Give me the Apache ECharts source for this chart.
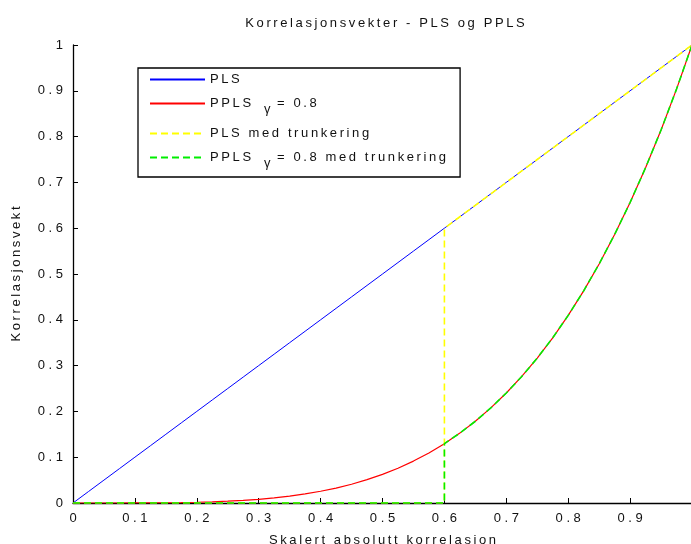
<!DOCTYPE html>
<html>
<head>
<meta charset="utf-8">
<script src="https://cdn.jsdelivr.net/npm/echarts@6/dist/echarts.min.js"></script>
<style>
  html, body { margin: 0; padding: 0; background: #fff; }
  #chart { width: 691px; height: 544px; }
</style>
</head>
<body>
<div id="chart"></div>
<script>
// Scaled absolute correlation (x) sampled at 0.025 steps
const xs = [0, 0.025, 0.05, 0.075, 0.1, 0.125, 0.15, 0.175, 0.2, 0.225, 0.25,
            0.275, 0.3, 0.325, 0.35, 0.375, 0.4, 0.425, 0.45, 0.475, 0.5,
            0.525, 0.55, 0.575, 0.6, 0.625, 0.65, 0.675, 0.7, 0.725, 0.75,
            0.775, 0.8, 0.825, 0.85, 0.875, 0.9, 0.925, 0.95, 0.975, 1.0];
// PLS weights
const plsWeights = [0, 0.025, 0.05, 0.075, 0.1, 0.125, 0.15, 0.175, 0.2, 0.225, 0.25,
                    0.275, 0.3, 0.325, 0.35, 0.375, 0.4, 0.425, 0.45, 0.475, 0.5,
                    0.525, 0.55, 0.575, 0.6, 0.625, 0.65, 0.675, 0.7, 0.725, 0.75,
                    0.775, 0.8, 0.825, 0.85, 0.875, 0.9, 0.925, 0.95, 0.975, 1.0];
// PPLS (gamma = 0.8) weights
const pplsWeights = [0, 0, 0, 0, 0.0001, 0.0002, 0.0005, 0.0009, 0.0016, 0.0026, 0.0039,
                     0.0057, 0.0081, 0.0112, 0.015, 0.0198, 0.0256, 0.0326, 0.041, 0.0509, 0.0625,
                     0.076, 0.0915, 0.1093, 0.1296, 0.1526, 0.1785, 0.2076, 0.2401, 0.2763, 0.3164,
                     0.3607, 0.4096, 0.4632, 0.522, 0.5862, 0.6561, 0.7321, 0.8145, 0.9037, 1.0];
// Truncation threshold
const cutoff = 0.6;
const xTicks = [0, 0.1, 0.2, 0.3, 0.4, 0.5, 0.6, 0.7, 0.8, 0.9];
const yTicks = [0, 0.1, 0.2, 0.3, 0.4, 0.5, 0.6, 0.7, 0.8, 0.9, 1];

const FONT = '"Liberation Sans Narrow", "Arial Narrow", "Liberation Sans", sans-serif';
const sp = s => s.split('').join('\u2009');

function pairs(ys) { return xs.map((x, i) => [x, ys[i]]); }
function truncated(ys) {
  const out = [];
  xs.forEach((x, i) => {
    if (x < cutoff) out.push([x, 0]);
    else if (x === cutoff) { out.push([x, 0]); out.push([x, ys[i]]); }
    else out.push([x, ys[i]]);
  });
  return out;
}

const chart = echarts.init(document.getElementById('chart'), null, { renderer: 'canvas' });

const tickFmt = v => {
  const hit = yTicks.concat(xTicks).find(t => Math.abs(t - v) < 1e-9);
  if (hit === undefined) return '';
  if (hit === 1) return '1';
  if (hit === 0) return '0';
  return hit.toFixed(1).split('').join(' ');
};

chart.setOption({
  animation: false,
  backgroundColor: '#ffffff',
  title: {
    text: sp('Korrelasjonsvekter - PLS og PPLS'),
    left: 380, top: 12, textAlign: 'center',
    textStyle: { fontFamily: FONT, fontSize: 13, fontWeight: 'normal', color: '#111' }
  },
  grid: { left: 73, right: -1, top: 45, bottom: 41, containLabel: false, outerBoundsMode: 'none' },
  legend: {
    orient: 'vertical',
    left: 138, top: 68,
    itemWidth: 55, itemHeight: 14, itemGap: 11,
    padding: [5, 14, 7, 11],
    borderColor: '#000', borderWidth: 1.3,
    backgroundColor: '#fff',
    itemStyle: { opacity: 0 },
    textStyle: {
      fontFamily: FONT, fontSize: 13, color: '#111',
      rich: {
        g: { fontFamily: FONT, fontSize: 13, color: '#111', padding: [12, 0, 0, 0] }
      }
    },
    formatter: name => {
      if (name.indexOf('γ') >= 0) {
        const parts = name.split('γ');
        return sp(parts[0].trim()) + '\u2003{g|γ}\u2002' + sp(parts[1].trim());
      }
      return sp(name);
    }
  },
  xAxis: {
    type: 'value', min: 0, max: 1, interval: 0.1,
    name: sp('Skalert absolutt korrelasjon'),
    nameLocation: 'middle', nameGap: 31,
    nameTextStyle: { fontFamily: FONT, fontSize: 13, color: '#111' },
    axisLine: { show: true, lineStyle: { color: '#000', width: 1.3 } },
    axisTick: { show: true, inside: true, length: 5, lineStyle: { color: '#000' } },
    axisLabel: {
      fontFamily: FONT, fontSize: 13, color: '#111', margin: 9,
      formatter: v => (v >= 1 ? '' : tickFmt(v))
    },
    splitLine: { show: false }
  },
  yAxis: {
    type: 'value', min: 0, max: 1, interval: 0.1,
    name: sp('Korrelasjonsvekt'),
    nameLocation: 'middle', nameGap: 50, nameRotate: 90,
    nameTextStyle: { fontFamily: FONT, fontSize: 13, color: '#111' },
    axisLine: { show: true, lineStyle: { color: '#000', width: 1.3 } },
    axisTick: { show: true, inside: true, length: 5, lineStyle: { color: '#000' } },
    axisLabel: { fontFamily: FONT, fontSize: 13, color: '#111', margin: 10, formatter: tickFmt },
    splitLine: { show: false }
  },
  series: [
    {
      name: 'PLS', type: 'line', symbol: 'none', data: pairs(plsWeights),
      lineStyle: { color: '#0000ff', width: 1 }, itemStyle: { color: '#0000ff' }
    },
    {
      name: 'PPLS γ = 0.8', type: 'line', symbol: 'none', data: pairs(pplsWeights),
      lineStyle: { color: '#ff0000', width: 1.2 }, itemStyle: { color: '#ff0000' }
    },
    {
      name: 'PLS med trunkering', type: 'line', symbol: 'none', data: truncated(plsWeights),
      lineStyle: { color: '#ffff00', width: 1.6, type: [7, 4] }, itemStyle: { color: '#ffff00' }
    },
    {
      name: 'PPLS γ = 0.8 med trunkering', type: 'line', symbol: 'none',
      data: truncated(pplsWeights),
      lineStyle: { color: '#00ee00', width: 1.6, type: [7, 4] }, itemStyle: { color: '#00ee00' }
    }
  ]
});
</script>
</body>
</html>
